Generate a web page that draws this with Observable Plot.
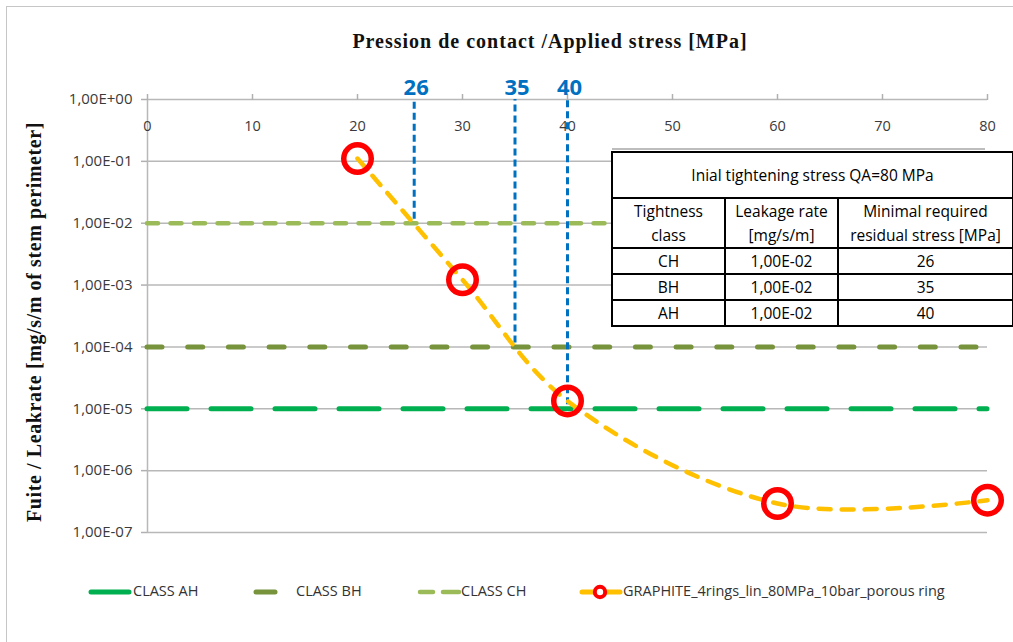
<!DOCTYPE html>
<html><head><meta charset="utf-8">
<script src="https://cdn.jsdelivr.net/npm/d3@7"></script>
<script src="https://cdn.jsdelivr.net/npm/@observablehq/plot@0.6"></script>
<style>
body{margin:0;background:#fff;}
#wrap{position:relative;width:1013px;height:642px;overflow:hidden;font-family:"Open Sans",sans-serif;background:#fff;}
#wrap svg.plot{position:absolute;left:0;top:0;}
#frame{position:absolute;left:6px;top:6px;width:1200px;height:800px;border:1.5px solid #c6c6c6;box-sizing:border-box;}
#title{position:absolute;left:550px;top:30px;transform:translateX(-50%);font-family:"Liberation Serif",serif;font-weight:bold;font-size:20px;letter-spacing:1px;white-space:nowrap;color:#111;}
#ytitle{position:absolute;left:34px;top:322px;transform:translate(-50%,-50%) rotate(-90deg);font-family:"Liberation Serif",serif;font-weight:bold;font-size:20px;letter-spacing:0.6px;white-space:nowrap;color:#111;}
#tbl{position:absolute;left:611px;top:151px;width:401px;table-layout:fixed;border-collapse:collapse;background:#fff;font-size:15.5px;color:#000;}
#tbl td{border:2px solid #000;text-align:center;padding:0;line-height:24px;white-space:nowrap;}
#shadow{position:absolute;left:612px;top:148px;width:373px;height:1.5px;background:#bdbdbd;}
.leg{position:absolute;top:583px;height:18px;font-size:14.5px;color:#333;white-space:nowrap;}
.leg svg{position:absolute;top:0;}
.leg span{position:absolute;top:-2px;}
</style></head>
<body><div id="wrap"><div id="frame"></div></div>
<script>
// ---- data ----
const stress = [20, 30, 40, 60, 80];
const leakrate = [0.111, 1.22e-3, 1.34e-5, 2.94e-7, 3.33e-7];
const seriesName = "GRAPHITE_4rings_lin_80MPa_10bar_porous ring";
const classNames = ["CLASS AH", "CLASS BH", "CLASS CH"];
const classLevels = [1e-5, 1e-4, 1e-2];
const classColors = ["#00B050", "#77933C", "#9BBB59"];
const classDash = ["40 24", "15 25.7", "11 12.5"];
const classWidth = [5, 5, 4.5];
const requiredStress = [25.4, 35, 40];
const requiredLabels = ["26", "35", "40"];
const requiredLevels = [1e-2, 1e-4, 1e-5];
const xTicks = [0, 10, 20, 30, 40, 50, 60, 70, 80];
const yTicks = [1, 1e-1, 1e-2, 1e-3, 1e-4, 1e-5, 1e-6, 1e-7];
const tableTitle = "Inial tightening stress QA=80 MPa";
const tableHead = ["Tightness<br>class", "Leakage rate<br>[mg/s/m]", "Minimal required<br>residual stress [MPa]"];
const tableClass = ["CH", "BH", "AH"];
const tableRate = ["1,00E-02", "1,00E-02", "1,00E-02"];
const tableStress = ["26", "35", "40"];

const fmtSci = d => {
  const e = Math.round(Math.log10(d));
  return "1,00E" + (e < 0 ? "-" : "+") + String(Math.abs(e)).padStart(2, "0");
};

const pts = stress.map((x, i) => ({x, y: leakrate[i]}));
const classes = classNames.map((n, i) => ({name: n, level: classLevels[i], color: classColors[i], dash: classDash[i], w: classWidth[i]}));
const req = requiredStress.map((x, i) => ({x, label: requiredLabels[i], level: requiredLevels[i]}));

const marks = [
  Plot.ruleY(yTicks, {y: d => d, stroke: "#b8b8b8", strokeWidth: 1.5}),
  Plot.ruleX([0], {stroke: "#b8b8b8", strokeWidth: 1.5}),
  Plot.axisY({ticks: yTicks, tickFormat: fmtSci, tickSize: 6, tickPadding: 9, fontSize: 15, stroke: "#b0b0b0", fill: "#3a3a3a", strokeWidth: 1.5, label: null}),
  Plot.axisX({anchor: "top", ticks: xTicks, tickSize: 6, tickFormat: () => "", stroke: "#b0b0b0", strokeWidth: 1.5, label: null}),
  Plot.text(xTicks, {x: d => d, text: d => String(d), frameAnchor: "top", dy: 21, fontSize: 14.5, fill: "#3a3a3a"}),
];
classes.forEach(c => {
  marks.push(Plot.ruleY([c], {y: "level", x1: 0, x2: 80, stroke: c.color, strokeWidth: c.w, strokeDasharray: c.dash, strokeLinecap: "round"}));
});
marks.push(
  Plot.ruleX(req, {x: "x", y1: "level", y2: 1, stroke: "#0070C0", strokeWidth: 3, strokeDasharray: "7 4", insetTop: -4}),
  Plot.text(req, {x: "x", text: "label", frameAnchor: "top", dy: -20, fill: "#0070C0", fontWeight: "bold", fontSize: 22, dx: 2}),
  Plot.line(pts, {x: "x", y: "y", curve: "catmull-rom", stroke: "#FFC000", strokeWidth: 4.5, strokeDasharray: "12 11", strokeLinecap: "round"}),
  Plot.dot(pts, {x: "x", y: "y", r: 13.75, stroke: "#FF0000", strokeWidth: 5.5, fill: "none"})
);

const chart = Plot.plot({
  width: 1013, height: 642,
  marginLeft: 147, marginRight: 26, marginTop: 99, marginBottom: 110,
  x: {domain: [0, 80]},
  y: {type: "log", domain: [1e-7, 1]},
  style: {background: "transparent", overflow: "visible", fontFamily: "Open Sans"},
  marks
});
chart.classList.add("plot");
const wrap = document.getElementById("wrap");
wrap.appendChild(chart);

const title = document.createElement("div");
title.id = "title"; title.textContent = "Pression de contact /Applied stress [MPa]";
wrap.appendChild(title);
const yt = document.createElement("div");
yt.id = "ytitle"; yt.textContent = "Fuite / Leakrate [mg/s/m of stem perimeter]";
wrap.appendChild(yt);

const sh = document.createElement("div"); sh.id = "shadow"; wrap.appendChild(sh);
const tbl = document.createElement("table"); tbl.id = "tbl";
const colW = [113, 113, 175];
let html = `<colgroup>` + colW.map(w => `<col style="width:${w}px">`).join("") + `</colgroup>`;
html += `<tr style="height:46px"><td colspan="3">${tableTitle}</td></tr>`;
html += `<tr style="height:49px">` + tableHead.map(h => `<td>${h}</td>`).join("") + `</tr>`;
tableClass.forEach((c, i) => {
  html += `<tr style="height:${i === 1 ? 25 : 26}px"><td>${c}</td><td>${tableRate[i]}</td><td>${tableStress[i]}</td></tr>`;
});
tbl.innerHTML = html;
wrap.appendChild(tbl);

// legend
const legPos = [
  {left: 88, sw: 44, tx: 45},
  {left: 252, sw: 28, tx: 44},
  {left: 416, sw: 46, tx: 45}
];
classes.forEach((c, i) => {
  const p = legPos[i];
  const d = document.createElement("div");
  d.className = "leg"; d.style.left = p.left + "px";
  let line;
  if (i === 0) line = `<line x1="3" x2="41" y1="9" y2="9" stroke="${c.color}" stroke-width="5" stroke-linecap="round"/>`;
  else if (i === 1) line = `<line x1="4" x2="23" y1="9" y2="9" stroke="${c.color}" stroke-width="5" stroke-linecap="round"/>`;
  else line = `<line x1="4" x2="17" y1="9" y2="9" stroke="${c.color}" stroke-width="4.5" stroke-linecap="round"/><line x1="27" x2="43" y1="9" y2="9" stroke="${c.color}" stroke-width="4.5" stroke-linecap="round"/>`;
  d.innerHTML = `<svg width="${p.sw}" height="18">${line}</svg><span style="left:${p.tx}px">${c.name}</span>`;
  wrap.appendChild(d);
});
const g = document.createElement("div");
g.className = "leg"; g.style.left = "579px";
g.innerHTML = `<svg width="44" height="18"><line x1="3" x2="41" y1="9" y2="9" stroke="#FFC000" stroke-width="5" stroke-linecap="round"/><circle cx="21" cy="9" r="5.2" fill="#fff" stroke="#FF0000" stroke-width="4"/></svg><span style="left:44px">${seriesName}</span>`;
wrap.appendChild(g);
</script>
</body></html>
